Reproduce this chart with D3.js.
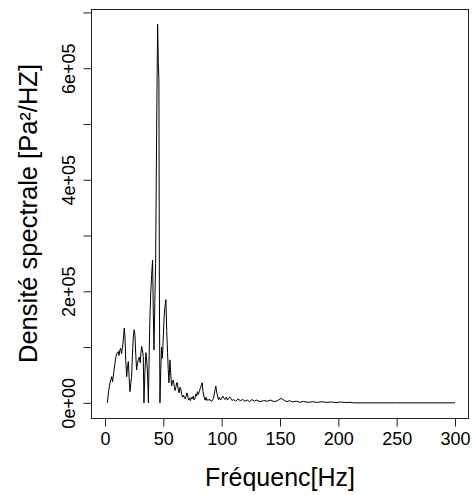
<!DOCTYPE html>
<html>
<head>
<meta charset="utf-8">
<script src="https://cdn.jsdelivr.net/npm/d3@7"></script>
<style>
html,body{margin:0;padding:0;background:#fff;}
svg{display:block;}
text{font-family:"Liberation Sans",Arial,Helvetica,sans-serif;fill:#000;}
</style>
</head>
<body>
<svg id="chart" width="473" height="495"></svg>
<script>
// Frequencies (Hz) and spectral density values (Pa²/Hz)
const freq = [2,3,4.3,5.7,6.5,7.5,8.6,9.4,10.5,11.4,12,12.8,13.4,14.2,15,15.7,16.5,17.1,17.8,18.6,19.3,20,20.7,21.4,22.1,22.8,23.5,24.2,25,25.7,26.4,27.1,27.8,28.5,29.4,30.2,30.8,31.4,32.1,32.8,33.4,34.2,35.1,35.8,36.5,37.2,37.9,38.5,39.2,40,40.8,41.4,42,42.7,43.4,44.3,45.1,45.7,46.2,46.6,47.1,47.8,48.5,49.2,50,50.7,51.4,52.2,52.9,53.6,54.2,54.8,55.3,55.7,56.4,57.1,57.8,58.5,59.3,60,60.8,61.4,62,62.7,63.5,64.2,65,65.7,66.5,67.2,68,68.8,69.5,70.2,71,71.7,72.5,73.2,74,74.7,75.6,76.3,77,77.8,78.5,79.3,80,81,82,83.3,84,85,85.8,86.5,87.3,88,89,90,91,92,93,94,95,95.8,96.5,97.3,98,99,100,101,102,103,104,105,106,107,108,109,110,112,114,116,118,120,122,124,126,128,130,133,136,139,142,145,148,151,154,156,158,161,164,167,170,174,178,182,186,190,194,198,202,206,210,213,215,250,300,320];
const density = [0,20000,36000,47000,38000,55000,72000,83000,90000,92000,85000,95000,98000,88000,100000,113000,134000,120000,75000,47000,65000,74000,45000,20000,35000,47000,85000,116000,131000,120000,85000,59000,70000,77000,82000,72000,90000,101000,95000,83000,0,55000,90000,75000,50000,0,90000,152000,197000,230000,256000,160000,95000,180000,250000,500000,679000,610000,580000,215000,0,60000,100000,80000,120000,155000,172000,185000,130000,90000,60000,36000,60000,77000,50000,30000,38000,41000,30000,22000,28000,36000,36000,25000,18000,28000,25000,15000,10000,14000,10000,7000,12000,18000,12000,5000,8000,4000,10000,7000,12000,5000,8000,16000,12000,20000,15000,22000,28000,36000,20000,10000,5000,10000,4000,6000,5000,6000,3000,4000,8000,20000,30000,18000,12000,6000,10000,5000,8000,12000,8000,6000,10000,5000,8000,10000,8000,4000,6000,3000,7000,4000,6000,3000,5000,2000,6000,3000,5000,2000,4000,3000,5000,2000,4000,8000,4000,2000,4000,1500,3000,1000,2500,1000,2000,800,2000,800,1500,500,1500,500,1000,0,0,0,0];
const xTicks = [0,50,100,150,200,250,300];
const yTicks = [0,100000,200000,300000,400000,500000,600000,700000];
const yTickLabels = ["0e+00","","2e+05","","4e+05","","6e+05",""];
const xTitle = "Fréquenc[Hz]";
const yTitle = "Densité spectrale [Pa²/HZ]";

const svg = d3.select("#chart");
const L = 91, R = 469, T = 9, B = 418;
const yMax = d3.max(density);
const x = d3.scaleLinear().domain([-12, 312]).range([L, R]);
const y = d3.scaleLinear().domain([-0.04*yMax, 1.04*yMax]).range([B, T]);

svg.append("clipPath").attr("id","clip").append("rect")
  .attr("x",L).attr("y",T).attr("width",R-L).attr("height",B-T);

const pts = freq.map((f,i)=>[f,density[i]]);
svg.append("path")
  .datum(pts)
  .attr("clip-path","url(#clip)")
  .attr("fill","none")
  .attr("stroke","#000")
  .attr("stroke-width",1)
  .attr("d", d3.line().x(d=>x(d[0])).y(d=>y(d[1])));

// box
svg.append("rect").attr("x",L+0.5).attr("y",T+0.5).attr("width",R-L-1).attr("height",B-T)
  .attr("fill","none").attr("stroke","#222").attr("stroke-width",1);

// x axis
const xAxis = d3.axisBottom(x).tickValues(xTicks).tickSize(8).tickPadding(6).tickFormat(d3.format("d"));
const gx = svg.append("g").attr("transform",`translate(0,${B+0.5})`).call(xAxis);
gx.select(".domain").attr("d",`M${x(0)},0H${x(300)}`).attr("stroke","#222");
gx.selectAll(".tick line").attr("stroke","#222");
gx.selectAll(".tick text").attr("font-size","18px").attr("font-family","Liberation Sans, Arial, sans-serif").attr("fill","#000").attr("dy","0.71em");

// y axis
const yAxis = d3.axisLeft(y).tickValues(yTicks).tickSize(8).tickPadding(6).tickFormat((d,i)=>yTickLabels[i]);
const gy = svg.append("g").attr("transform",`translate(${L+0.5},0)`).call(yAxis);
gy.select(".domain").attr("d",`M0,${y(0)}V${y(700000)}`).attr("stroke","#222");
gy.selectAll(".tick line").attr("stroke","#222");
gy.selectAll(".tick text")
  .attr("font-size","18px").attr("font-family","Liberation Sans, Arial, sans-serif").attr("fill","#000")
  .attr("x",null).attr("dy",null)
  .attr("text-anchor","middle")
  .attr("transform","translate(-17,0) rotate(-90)");

// titles
svg.append("text").attr("x",(L+R)/2).attr("y",486).attr("text-anchor","middle")
  .attr("font-size","25px").text(xTitle);
svg.append("text").attr("transform",`translate(37,${(T+B)/2}) rotate(-90)`).attr("text-anchor","middle")
  .attr("font-size","25.5px").text(yTitle);
</script>
</body>
</html>
